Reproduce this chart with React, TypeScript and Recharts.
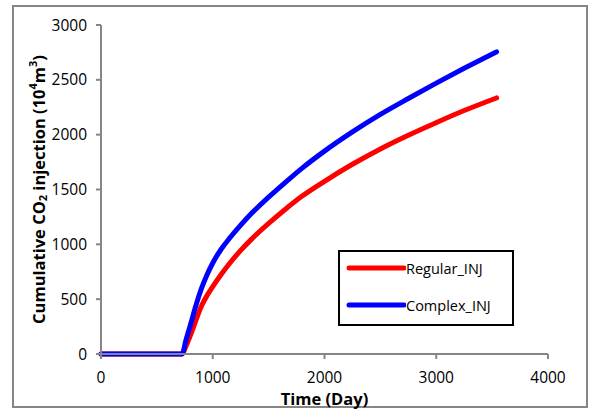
import React from 'react';
import { LineChart, Line, XAxis, YAxis, Legend, Label } from 'recharts';

const days = [0, 725, 760, 800, 850, 900, 950, 1000, 1075, 1150, 1250, 1350, 1500, 1650, 1800, 2000, 2250, 2500, 2750, 3000, 3250, 3540];
const regularInj = [0, 0, 70, 170, 310, 440, 535, 615, 725, 825, 945, 1050, 1190, 1320, 1440, 1575, 1730, 1870, 1995, 2110, 2220, 2335];
const complexInj = [0, 0, 125, 265, 445, 600, 725, 830, 955, 1055, 1175, 1285, 1430, 1565, 1695, 1850, 2025, 2185, 2330, 2470, 2605, 2755];
const xTicks = [0, 1000, 2000, 3000, 4000];
const yTicks = [0, 500, 1000, 1500, 2000, 2500, 3000];

const FONT = '"Open Sans", Lato, sans-serif';
const AXIS_GREY = '#868686';

const series = [
  { key: 'regular', name: 'Regular_INJ', color: '#FF0000' },
  { key: 'complex', name: 'Complex_INJ', color: '#0000FF' },
];

const data = days.map((d, i) => ({
  day: d,
  regular: regularInj[i],
  complex: complexInj[i],
}));

const LegendBox = () => (
  <div
    style={{
      width: 176,
      height: 76,
      boxSizing: 'border-box',
      border: '2px solid #000',
      background: '#fff',
      fontFamily: FONT,
      fontSize: 14.5,
      color: '#000',
      paddingTop: 3,
    }}
  >
    {series.map((s) => (
      <div key={s.key} style={{ display: 'flex', alignItems: 'center', height: 26, marginBottom: 11 }}>
        <svg width={61} height={10} style={{ marginLeft: 5 }}>
          <line x1={4} y1={5} x2={59} y2={5} stroke={s.color} strokeWidth={5} strokeLinecap="round" />
        </svg>
        <span>{s.name}</span>
      </div>
    ))}
  </div>
);

const YTitle = (props: any) => {
  const vb = props.viewBox;
  const cx = 38;
  const cy = vb.y + vb.height / 2;
  return (
    <text
      x={cx}
      y={cy}
      transform={`rotate(-90 ${cx} ${cy})`}
      textAnchor="middle"
      dominantBaseline="central"
      fontFamily={FONT}
      fontWeight={700}
      fontSize={16.5}
      fill="#000"
    >
      Cumulative CO
      <tspan fontSize={11} dy={4}>2</tspan>
      <tspan dy={-4}> injection (10</tspan>
      <tspan fontSize={11} dy={-6}>4</tspan>
      <tspan dy={6}>m</tspan>
      <tspan fontSize={11} dy={-6}>3</tspan>
      <tspan dy={6}>)</tspan>
    </text>
  );
};

const XTitle = (props: any) => {
  const vb = props.viewBox;
  return (
    <text
      x={vb.x + vb.width / 2}
      y={405}
      textAnchor="middle"
      fontFamily={FONT}
      fontWeight={700}
      fontSize={16.5}
      fill="#000"
    >
      Time (Day)
    </text>
  );
};

export default function App() {
  return (
    <div style={{ position: 'absolute', left: 0, top: 0, width: 590, height: 412 }}>
      <div
        style={{
          position: 'absolute',
          left: 12,
          top: 5,
          width: 576,
          height: 403,
          boxSizing: 'border-box',
          border: `2px solid ${AXIS_GREY}`,
        }}
      />
      <div style={{ position: 'absolute', left: 0, top: 0 }}>
        <LineChart width={590} height={412} data={data} margin={{ top: 25, right: 42, bottom: 18, left: 20 }}>
          <XAxis
            dataKey="day"
            type="number"
            domain={[0, 4000]}
            ticks={xTicks}
            height={40}
            tickSize={5}
            tickMargin={13}
            axisLine={{ stroke: AXIS_GREY, strokeWidth: 2 }}
            tickLine={{ stroke: AXIS_GREY, strokeWidth: 2 }}
            tick={{ fill: '#000', fontSize: 15.5, fontFamily: FONT }}
          >
            <Label content={XTitle} />
          </XAxis>
          <YAxis
            type="number"
            domain={[0, 3000]}
            ticks={yTicks}
            width={81}
            tickSize={5}
            tickMargin={9}
            axisLine={{ stroke: AXIS_GREY, strokeWidth: 2 }}
            tickLine={{ stroke: AXIS_GREY, strokeWidth: 2 }}
            tick={{ fill: '#000', fontSize: 15.5, fontFamily: FONT }}
          >
            <Label content={YTitle} />
          </YAxis>
          <Legend
            layout="vertical"
            align="center"
            verticalAlign="middle"
            content={LegendBox}
            wrapperStyle={{ left: 338, top: 250, width: 176 }}
          />
          {series.map((s) => (
            <Line
              key={s.key}
              dataKey={s.key}
              name={s.name}
              type="monotone"
              stroke={s.color}
              strokeWidth={5}
              strokeLinecap="round"
              dot={false}
              isAnimationActive={false}
            />
          ))}
        </LineChart>
      </div>
    </div>
  );
}
